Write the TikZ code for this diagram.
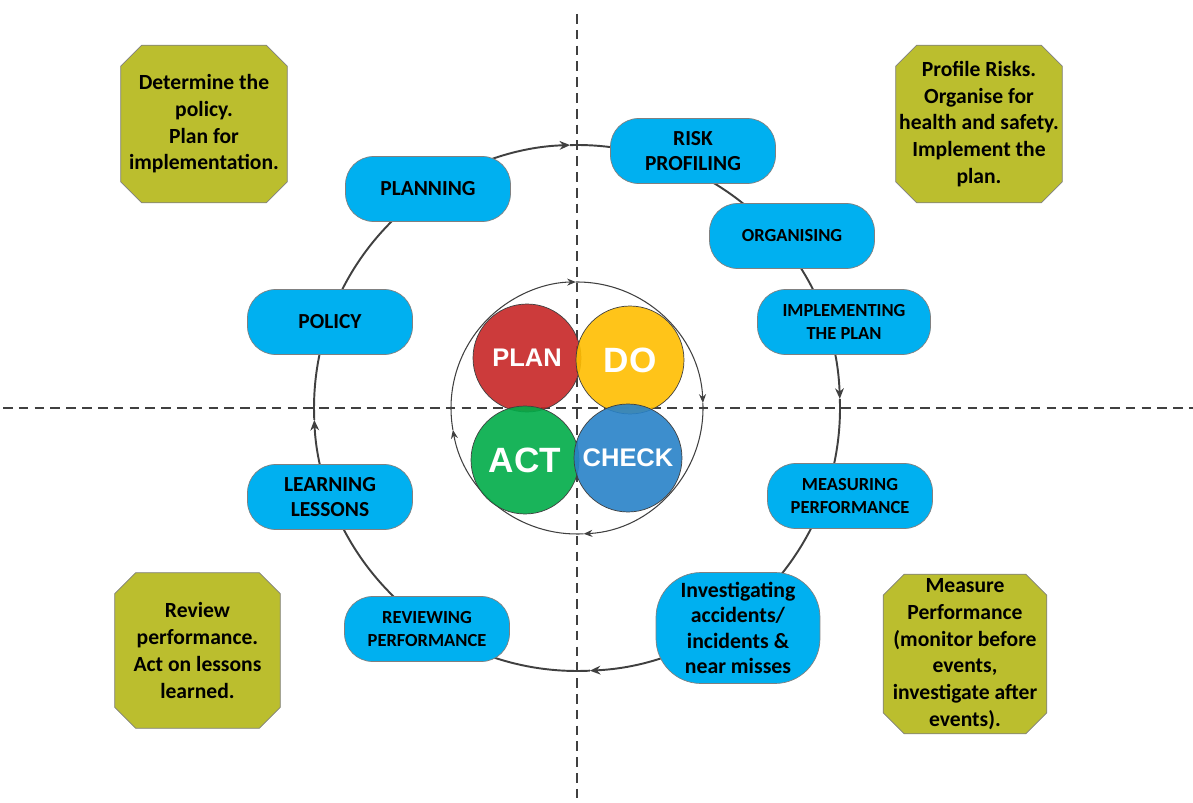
\documentclass[tikz,border=0pt]{standalone}
\usepackage{fontspec}
\setmainfont{Carlito}
\newfontfamily\pdcafont{Liberation Sans}
\usetikzlibrary{shapes,arrows.meta}

\definecolor{stageblue}{RGB}{0,176,240}
\definecolor{adviceolive}{RGB}{187,190,46}
\definecolor{planred}{RGB}{198,38,38}
\definecolor{doyellow}{RGB}{255,190,0}
\definecolor{actgreen}{RGB}{0,172,72}
\definecolor{checkblue}{RGB}{40,130,200}
\definecolor{ringgrey}{RGB}{64,64,64}

\pgfdeclarelayer{back}
\pgfsetlayers{back,main}

\begin{document}
\begin{tikzpicture}[x=0.02cm,y=0.02cm,
  stage/.style={draw=gray, fill=stageblue, rounded corners=0.56cm, minimum width=3.3cm, minimum height=1.3cm, align=center, font=\bfseries\fontsize{12.2}{14.3}\selectfont},
  small/.style={font=\bfseries\fontsize{10.5}{13}\selectfont},
  advice/.style={rectangle, minimum width=3.32cm, minimum height=3.14cm, inner sep=0pt, align=center, font=\bfseries\fontsize{12.3}{15.2}\selectfont},
  chamfer/.style={draw=gray, fill=adviceolive},
  quad/.style={circle, draw=ringgrey, thin, minimum size=2.16cm, fill opacity=0.9, text opacity=1, text=white},
  ring/.style={ringgrey, line width=1.1pt, -{Stealth[length=6pt,width=5pt]}},
  inring/.style={ringgrey, line width=0.6pt, -{Stealth[length=5pt,width=4pt]}},
  axis/.style={ringgrey, line width=0.7pt, dash pattern=on 5.5pt off 3.5pt}]

\useasboundingbox (0,0) rectangle (1193,802);

\coordinate (o) at (577,394);
\coordinate (west) at (3,394);
\coordinate (east) at (1193,394);
\coordinate (north) at (577,788);
\coordinate (south) at (577,0);

\draw[axis] (west)--(east);
\draw[axis] (north)--(south);

\draw[ring] ([shift={(182.6:263)}]o) arc[start angle=182.6, end angle=91.5, radius=263];
\draw[ring] ([shift={(91.5:263)}]o) arc[start angle=91.5, end angle=2, radius=263];
\draw[ring] ([shift={(2:263)}]o) arc[start angle=2, end angle=-87.2, radius=263];
\draw[ring] ([shift={(-87.2:263)}]o) arc[start angle=-87.2, end angle=-177.4, radius=263];

\draw[inring] ([shift={(190:126)}]o) arc[start angle=190, end angle=90.5, radius=126];
\draw[inring] ([shift={(90.5:126)}]o) arc[start angle=90.5, end angle=2.3, radius=126];
\draw[inring] ([shift={(2.3:126)}]o) arc[start angle=2.3, end angle=-87, radius=126];
\draw[inring] ([shift={(-87:126)}]o) arc[start angle=-87, end angle=-170, radius=126];

\node[quad, fill=planred, font=\pdcafont\bfseries\fontsize{14.5}{16}\selectfont] (plan) at (527,444) {PLAN};
\node[quad, fill=doyellow, font=\pdcafont\bfseries\fontsize{20}{22}\selectfont] (do) at (630,442) {DO};
\node[quad, fill=actgreen, font=\pdcafont\bfseries\fontsize{20}{22}\selectfont] (act) at (525,342) {ACT};
\node[quad, fill=checkblue, font=\pdcafont\bfseries\fontsize{14.5}{16}\selectfont] (check) at (628,344) {CHECK};

\node[stage] (risk) at (693,651) {RISK\\PROFILING};
\node[stage] (planning) at (428,613) {PLANNING};
\node[stage, small] (organising) at (792,566) {ORGANISING};
\node[stage] (policy) at (330,480) {POLICY};
\node[stage, small, minimum width=3.46cm] (implementing) at (844,480) {IMPLEMENTING\\THE PLAN};
\node[stage] (learning) at (330,305) {LEARNING\\LESSONS};
\node[stage, small] (measuring) at (850,306) {MEASURING\\PERFORMANCE};
\node[stage, small] (reviewing) at (427,173) {REVIEWING\\PERFORMANCE};
\node[stage, minimum width=3.28cm, minimum height=2.22cm, rounded corners=0.9cm, font=\bfseries\fontsize{12.4}{14.4}\selectfont] (investigating) at (738,174) {Investigating\\accidents/\\incidents \&\\near misses};

\node[advice] (determine) at (204,678) {Determine the\\policy.\\Plan for\\implementation.};
\node[advice] (profile) at (979,678) {Profile Risks.\\Organise for\\health and safety.\\Implement the\\plan.};
\node[advice, minimum width=3.3cm, minimum height=3.1cm] (review) at (197.5,151.5) {Review\\performance.\\Act on lessons\\learned.};
\node[advice, minimum width=3.26cm, minimum height=3.18cm] (measure) at (965,148) {Measure\\Performance\\(monitor before\\events,\\investigate after\\events).};

\begin{pgfonlayer}{back}
\foreach \b in {determine,profile,review,measure}
  \draw[chamfer] ([xshift=0.42cm]\b.north west) -- ([xshift=-0.42cm]\b.north east) -- ([yshift=-0.42cm]\b.north east) -- ([yshift=0.42cm]\b.south east) -- ([xshift=-0.42cm]\b.south east) -- ([xshift=0.42cm]\b.south west) -- ([yshift=0.42cm]\b.south west) -- ([yshift=-0.42cm]\b.north west) -- cycle;
\end{pgfonlayer}
\end{tikzpicture}
\end{document}
